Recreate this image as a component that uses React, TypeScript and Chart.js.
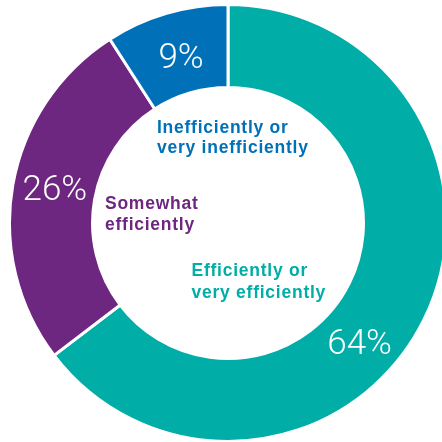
import React, { useEffect, useRef } from "react";
import { Chart, registerables } from "chart.js";

Chart.register(...registerables);

const categories = [
  "Efficiently or very efficiently",
  "Somewhat efficiently",
  "Inefficiently or very inefficiently",
];
const values = [64, 26, 9];
const percentLabels = ["64%", "26%", "9%"];
const categoryLines = [
  ["Efficiently or", "very efficiently"],
  ["Somewhat", "efficiently"],
  ["Inefficiently or", "very inefficiently"],
];
const colors = ["#00ADA7", "#6D2780", "#0071B9"];

// where along each arc the percentage sits (fraction of arc span) and radial nudge
const arcFractions = [0.567, 0.52, 0.523];
const radialNudge = [0, 0, -2.5];
// category text offsets from chart centre (left edge, first baseline)
const textOffsets = [
  [-36.5, 52.7],
  [-123, -13.7],
  [-71, -90.3],
];
const lineGap = [22, 20.5, 20.5];

const labelPlugin = {
  id: "ringLabels",
  afterDatasetsDraw(chart: any) {
    const ctx = chart.ctx as CanvasRenderingContext2D;
    const meta = chart.getDatasetMeta(0);
    meta.data.forEach((arc: any, i: number) => {
      const { x, y, startAngle, endAngle, innerRadius, outerRadius } = arc.getProps(
        ["x", "y", "startAngle", "endAngle", "innerRadius", "outerRadius"],
        true
      );
      const a = startAngle + (endAngle - startAngle) * arcFractions[i];
      const r = (innerRadius + outerRadius) / 2 + radialNudge[i];
      const px = x + Math.cos(a) * r;
      const py = y + Math.sin(a) * r;
      ctx.save();
      ctx.font = "300 35px Roboto";
      ctx.fillStyle = "#ffffff";
      ctx.textAlign = "center";
      ctx.textBaseline = "alphabetic";
      ctx.fillText(percentLabels[i], px, py + 13);

      ctx.font = "bold 17.5px 'Liberation Sans', Arial, sans-serif";
      (ctx as any).letterSpacing = "0.75px";
      ctx.fillStyle = colors[i];
      ctx.textAlign = "left";
      categoryLines[i].forEach((line, j) => {
        ctx.fillText(line, x + textOffsets[i][0], y + textOffsets[i][1] + j * lineGap[i]);
      });
      ctx.restore();
    });
  },
};

export default function App() {
  const canvasRef = useRef<HTMLCanvasElement | null>(null);

  useEffect(() => {
    document.body.style.margin = "0";
    const canvas = canvasRef.current;
    if (!canvas) return;
    const chart = new Chart(canvas, {
      type: "doughnut",
      data: {
        labels: categories,
        datasets: [
          {
            data: values,
            backgroundColor: colors,
            borderColor: "#ffffff",
            borderWidth: 3,
            hoverBorderWidth: 3,
            hoverOffset: 0,
          },
        ],
      },
      options: {
        responsive: false,
        animation: false,
        devicePixelRatio: 1,
        cutout: "62%",
        rotation: 0,
        layout: { padding: 0 },
        plugins: {
          legend: { display: false },
          tooltip: { enabled: false },
        },
        events: [],
      },
      plugins: [labelPlugin],
    });
    return () => chart.destroy();
  }, []);

  return (
    <div
      style={{
        position: "fixed",
        left: 0,
        top: 0,
        width: 442,
        height: 442,
        overflow: "hidden",
        background: "#ffffff",
      }}
    >
      <canvas
        ref={canvasRef}
        width={440}
        height={440}
        style={{ position: "absolute", left: 8, top: 3, width: 440, height: 440 }}
      />
    </div>
  );
}
